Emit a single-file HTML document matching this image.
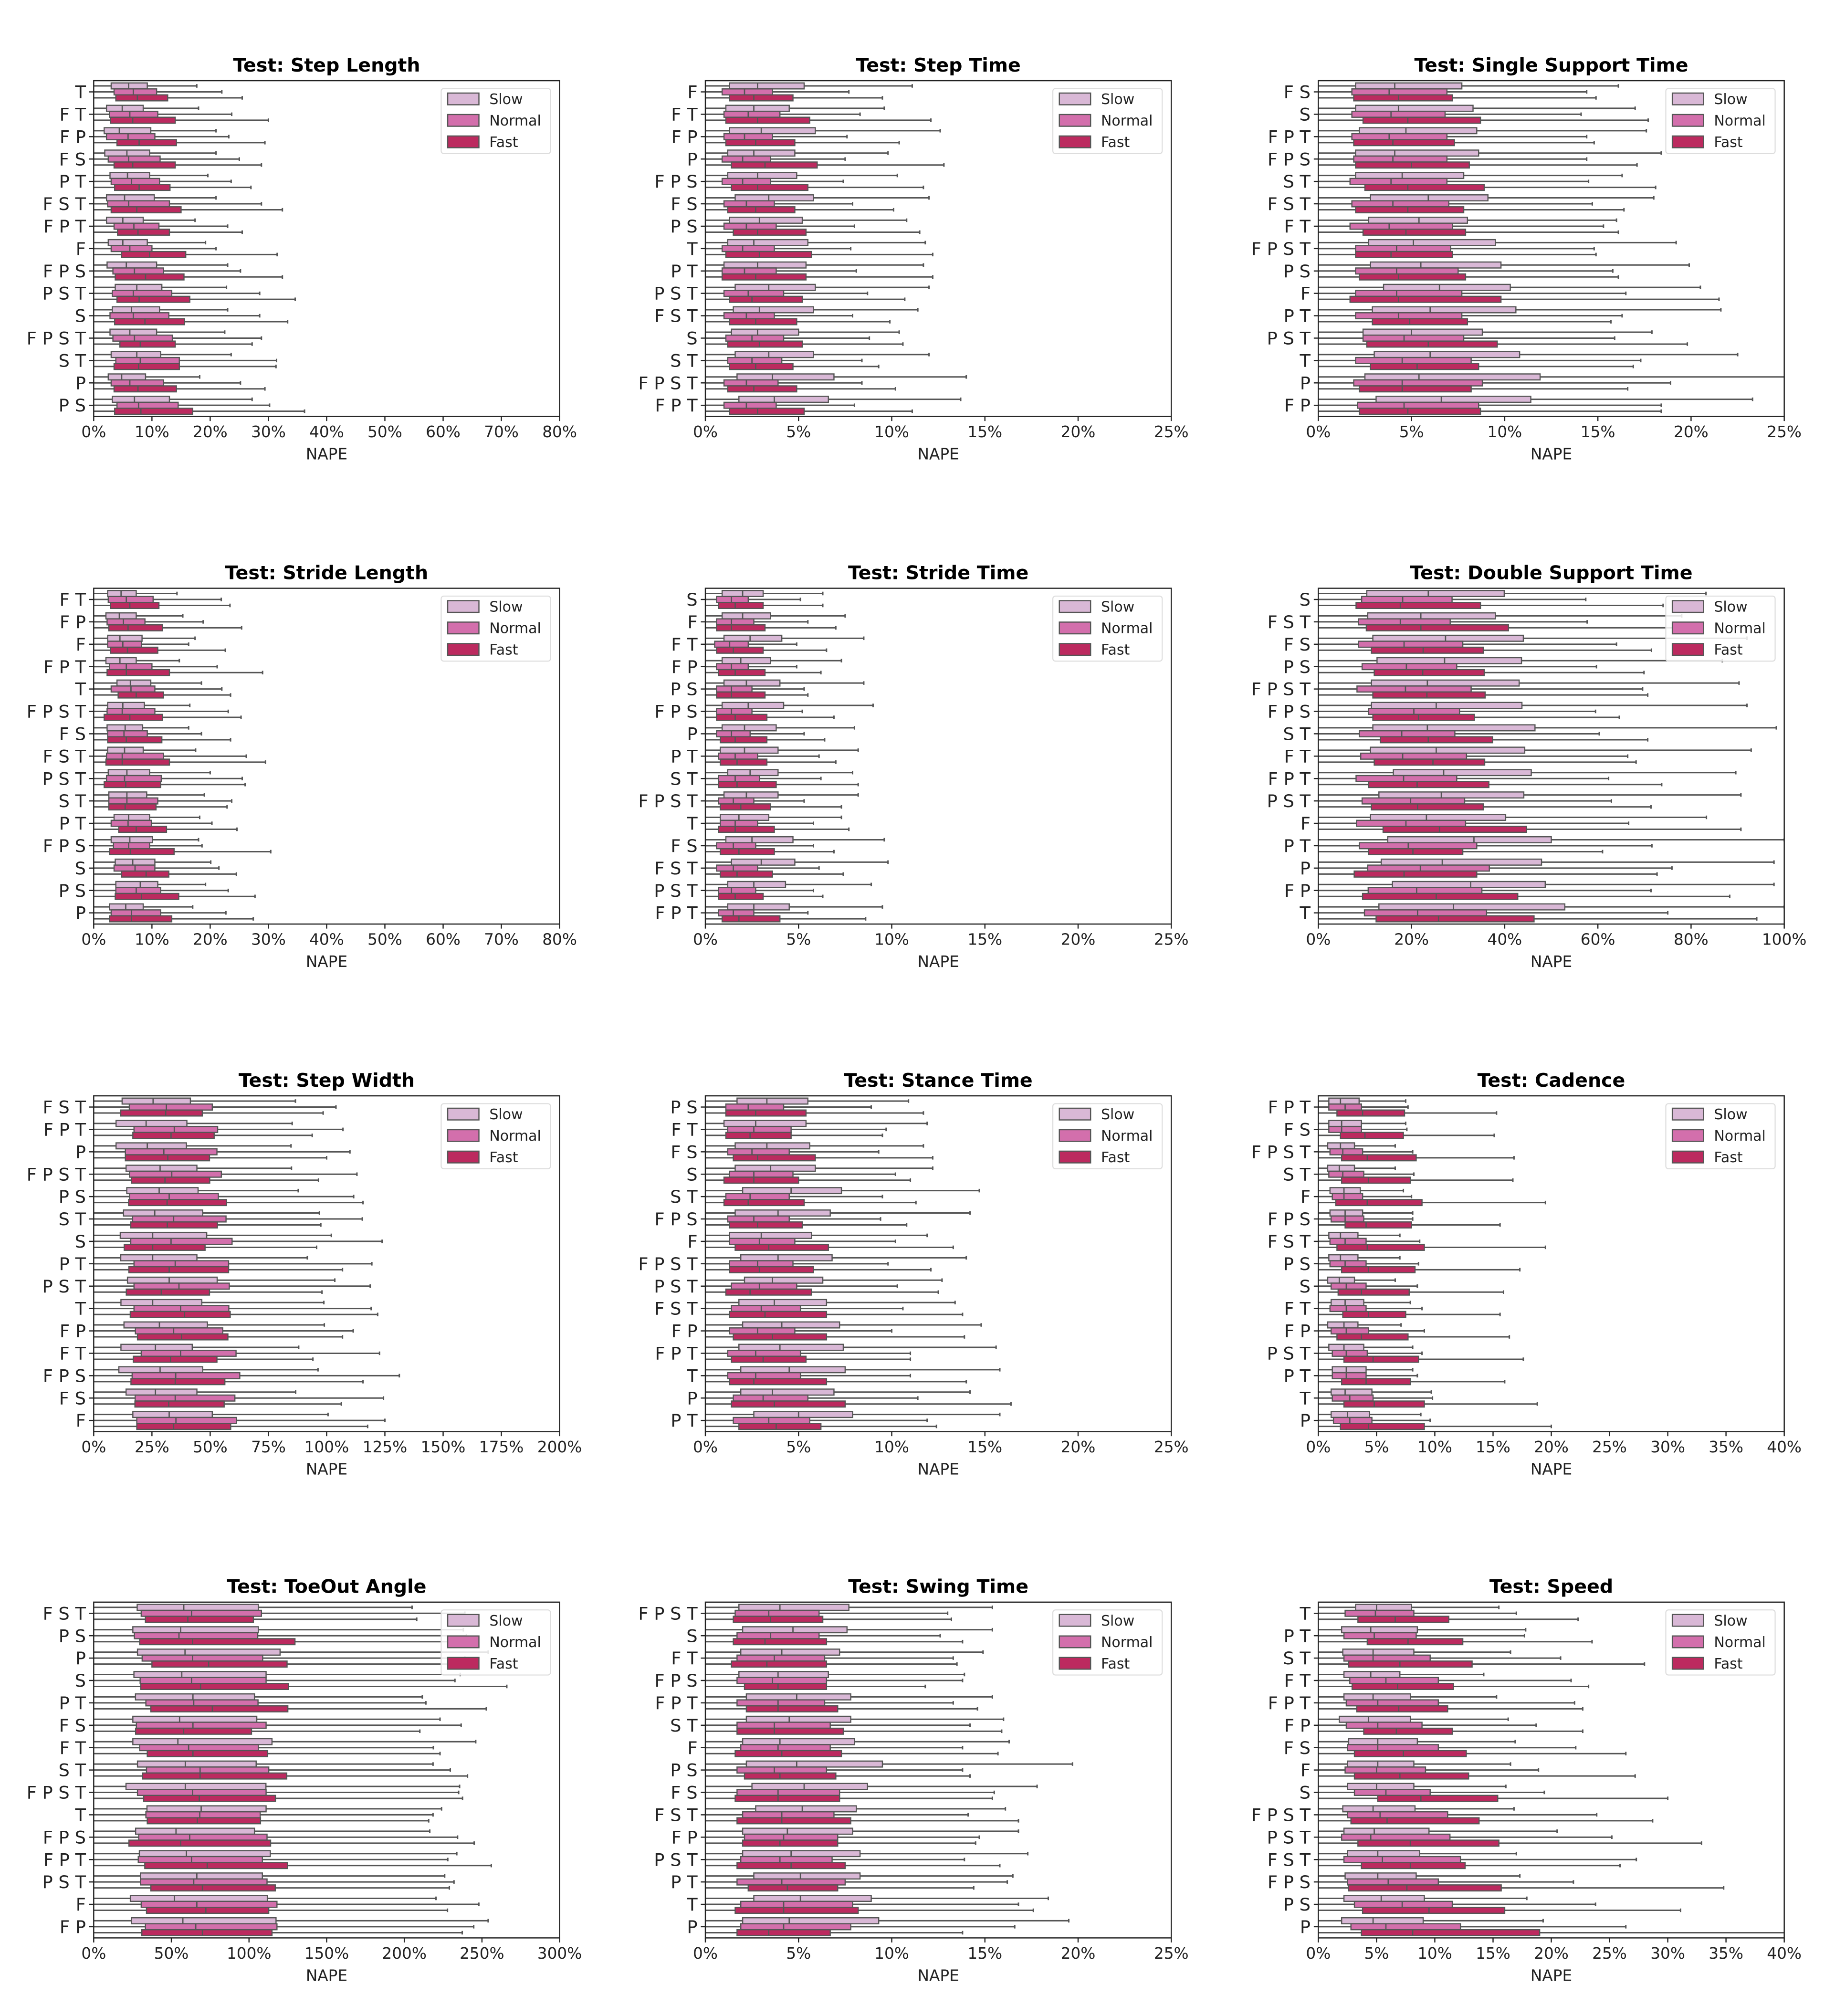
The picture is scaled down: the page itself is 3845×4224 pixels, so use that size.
<!DOCTYPE html>
<html><head><meta charset="utf-8"><title>NAPE boxplots</title>
<style>
html,body{margin:0;padding:0;background:#fff;}
svg{display:block;font-family:"DejaVu Sans","Liberation Sans",sans-serif;}
</style></head>
<body>
<svg id="fig" width="3845" height="4224" viewBox="0 0 1410 1549" preserveAspectRatio="none" xmlns="http://www.w3.org/2000/svg"></svg>
<script>
// ---------- data: each box = [q1, median, q3, upperWhisker] in % ----------
const stepLengthCats = ["T","F T","F P","F S","P T","F S T","F P T","F","F P S","P S T","S","F P S T","S T","P","P S"];
const stepLengthSlow = [[3,6,9.2,17.7],[2.2,4.9,8.5,18],[1.8,4.4,9.8,21],[1.9,5.7,9.6,21],[2.8,5.8,9.6,19.6],[2.2,5.3,10.4,21],[2.2,5,8.5,17.4],[2.5,5,9.2,19.2],[2.3,5.6,10.8,23],[3.7,7.4,11.7,22.8],[3.2,6.5,11.3,23],[2.8,6.2,10.8,22.5],[3,7.4,11.5,23.6],[2.5,4.8,8.9,18.2],[3.2,7,13,27.2]];
const stepLengthNormal = [[3.5,6.8,10.8,22],[2.7,6.2,11,23.7],[2.2,5.9,10.5,23.2],[2.5,6,11.4,25],[3,6.5,11.3,23.6],[2.4,6,13,28.8],[3.5,6.9,11.2,23],[3,6.2,10,21],[3.3,7,12,25.2],[3.2,6.8,13.4,28.5],[2.8,6.8,12.9,28.5],[3.3,7,13.5,28.8],[3.8,8,14.7,31.4],[3,6.2,12,25.2],[4,7.7,14.5,30.2]];
const stepLengthFast = [[3.8,7.5,12.7,25.5],[2.9,6.7,14,30],[4,7.8,14.2,29.4],[3.5,6.7,14,28.8],[3.6,7.8,13.1,27],[3,7.4,15,32.4],[4.1,7.6,13,25.5],[4.8,9.6,15.8,31.5],[3.7,8.9,15.5,32.4],[4,7.8,16.5,34.6],[3.6,8.8,15.6,33.3],[4.5,8,14,27.2],[3.5,7.7,14.7,31.3],[3.5,7.6,14.2,29.4],[3.6,8.1,17,36.2]];

const stepTimeCats = ["F","F T","F P","P","F P S","F S","P S","T","P T","P S T","F S T","S","S T","F P S T","F P T"];
const stepTimeSlow = [[1.3,2.8,5.3,11.1],[1.1,2.6,4.5,9.6],[1.3,3,5.9,12.6],[1.2,2.6,4.8,9.8],[1.2,2.8,4.9,10.3],[1.6,3.4,5.8,12],[1.3,2.9,5.2,10.8],[1.2,2.6,5.5,11.8],[1,2.8,5.4,11.7],[1.6,3.4,5.9,12],[1.5,2.9,5.8,11.4],[1.4,2.8,5,10.4],[1.6,3.4,5.8,12],[1.7,3.6,6.9,14],[1.8,3.7,6.6,13.7]];
const stepTimeNormal = [[0.9,2.1,3.6,7.7],[1,2.3,4,8.3],[1,2.1,3.6,7.6],[0.9,2,3.5,7.5],[0.9,2,3.5,7.4],[1,2.2,3.7,7.9],[1,2.2,3.8,8],[0.9,2,3.7,7.8],[0.9,2.1,3.8,8.1],[1,2.3,4.2,8.7],[1,2.2,3.7,7.9],[1.1,2.5,4.2,8.8],[1.2,2.5,4.1,8.4],[1,2.2,3.9,8.4],[1,2.2,3.8,8]];
const stepTimeFast = [[1.3,2.6,4.7,9.5],[1.1,2.8,5.6,12.1],[1.1,2.7,4.8,10.4],[1.4,3.2,6,12.8],[1.4,2.8,5.5,11.7],[1.2,2.7,4.8,10.1],[1.5,2.8,5.4,11.5],[1.1,2.9,5.7,12.2],[0.9,2.7,5.4,12.2],[1.3,2.5,5.2,10.7],[1.3,2.7,4.9,9.9],[1.2,2.9,5.2,10.6],[1.3,2.7,4.7,9.3],[1.2,2.6,4.9,10.2],[1.3,2.8,5.3,11.1]];

const sstCats = ["F S","S","F P T","F P S","S T","F S T","F T","F P S T","P S","F","P T","P S T","T","P","F P"];
const sstSlow = [[2,4.1,7.7,16.1],[2,4.3,8.3,17],[2.2,4.7,8.5,17.6],[2,4.1,8.6,18.4],[2,4.5,7.8,16.3],[2.8,5.9,9.1,18],[2.7,5.4,8,16],[2.7,5.1,9.5,19.2],[2.8,5.5,9.8,19.9],[3.5,6.5,10.3,20.5],[2.9,6,10.6,21.6],[2.4,5,8.8,17.9],[3,6,10.8,22.5],[2.5,5.4,11.9,26],[3.1,6.6,11.4,23.3]];
const sstNormal = [[1.8,3.8,6.9,14.4],[1.8,3.9,6.8,14.1],[1.8,3.8,6.9,14.4],[1.9,4,6.9,14.4],[1.7,3.9,6.9,14.5],[1.8,4,7,14.7],[1.7,3.8,7.2,15.3],[2,4.2,7.1,14.8],[2,4.2,7.5,15.8],[2,4.2,7.7,16.5],[2,4.3,7.7,16.3],[2.4,4.6,7.8,15.9],[2,4.5,8.2,17.3],[1.9,4.5,8.8,18.9],[2.1,4.6,8.6,18.4]];
const sstFast = [[1.9,4.3,7.2,14.9],[2.4,4.8,8.7,17.7],[1.9,4,7.3,14.8],[2,5,8.1,17.1],[2.5,4.8,8.9,18.1],[2,4.8,7.8,16.4],[2.4,4.7,7.9,16.1],[2,3.9,7.2,14.9],[2.2,4.3,7.9,16.1],[1.7,4.3,9.8,21.5],[2.9,4.9,8,15.7],[2.6,5.9,9.6,19.8],[2.8,5.3,8.6,16.9],[2.2,4.5,8.2,16.6],[2.2,4.8,8.7,18.4]];

const strideLengthCats = ["F T","F P","F","F P T","T","F P S T","F S","F S T","P S T","S T","P T","F P S","S","P S","P"];
const strideLengthSlow = [[2.4,4.7,7.3,14.3],[2.1,4.4,7.3,15.3],[2.4,4.5,8.3,17.4],[2.1,4.5,7.3,14.7],[4,6.3,9.8,18.5],[2.4,5,8.7,16.5],[2.3,5.4,8.4,16.3],[2.4,5.3,8.5,17.5],[2.5,5.7,9.6,20],[2.6,5.7,9.1,19],[3.5,6,9.6,18.2],[3,6.2,10.1,18],[3.7,6.7,10.5,20.1],[3.8,8,11,19.2],[2.7,5.5,8.5,17]];
const strideLengthNormal = [[2.5,5.6,10.2,21.9],[2.3,5.1,8.8,18.8],[2.4,5,8.2,16.3],[2.7,5.6,10,21.2],[3,6.4,10.5,22],[2.3,4.9,10.5,23.1],[2.4,5.2,9.2,18.5],[2.2,4.9,12,26.2],[2.2,5.3,11.6,25.5],[2.6,5.7,11,23.7],[3,5.9,9.9,20.3],[3.4,6,9.6,18.6],[3.5,7.1,10.5,21.5],[3.8,7.3,11.5,23.1],[3,6.5,11.5,22.7]];
const strideLengthFast = [[2.9,6.2,11.2,23.4],[2.6,5.9,11.8,25.4],[2.9,5.8,11,22.6],[2.3,5.6,13,29],[4.2,7.3,12,23.5],[1.8,6.2,11.8,25.3],[2.4,5.6,11.7,23.5],[2.1,4.9,13,29.5],[1.8,5.5,11.5,26],[2.6,5.4,10.7,22.9],[4.3,7.3,12.5,24.6],[2.7,6.3,13.8,30.4],[4.8,9,12.9,24.5],[3.7,8.2,14.6,27.7],[2.7,6.5,13.4,27.4]];

const strideTimeCats = ["S","F","F T","F P","P S","F P S","P","P T","S T","F P S T","T","F S","F S T","P S T","F P T"];
const strideTimeSlow = [[0.9,2,3.1,6.3],[0.9,2,3.5,7.5],[1,2.4,4.1,8.5],[0.9,1.9,3.5,7.3],[1,2.2,4,8.5],[0.9,2.3,4.2,9],[0.9,2.1,3.8,8],[0.8,2.1,3.9,8.2],[1.2,2.4,3.9,7.9],[1,2.2,3.9,8.2],[0.8,1.8,3.4,7.3],[1.1,2.5,4.7,9.6],[1.4,3,4.8,9.8],[1.2,2.6,4.3,8.9],[1.2,2.6,4.5,9.5]];
const strideTimeNormal = [[0.6,1.4,2.3,5.1],[0.6,1.4,2.6,5.5],[0.5,1.3,2.3,4.9],[0.6,1.4,2.3,4.9],[0.6,1.4,2.5,5.3],[0.6,1.4,2.5,5.2],[0.6,1.4,2.4,5.3],[0.7,1.6,2.8,6.1],[0.7,1.6,2.9,6.2],[0.7,1.5,2.6,5.3],[0.8,1.6,2.8,5.8],[0.6,1.5,2.7,5.8],[0.6,1.5,2.8,6.1],[0.7,1.4,2.7,5.8],[0.7,1.5,2.6,5.5]];
const strideTimeFast = [[0.7,1.6,3.1,6.3],[0.6,1.4,3.2,7],[0.6,1.5,3.1,6.5],[0.7,1.6,3.2,6.2],[0.6,1.4,3.2,5.5],[0.6,1.6,3.3,6.9],[0.8,1.6,3.3,6.4],[0.8,1.7,3.3,7],[0.7,1.7,3.8,8.2],[0.8,1.9,3.5,7.3],[0.7,1.6,3.7,7.7],[0.8,1.8,3.7,6.9],[0.8,1.7,3.6,7.4],[0.7,1.6,3.1,6.3],[0.9,1.8,4,8.6]];

const dstCats = ["S","F S T","F S","P S","F P S T","F P S","S T","F T","F P T","P S T","F","P T","P","F P","T"];
const dstSlow = [[10.4,23.6,39.9,83.2],[10.6,22,38,78],[11.7,27.3,44,92],[12.6,27.1,43.6,86.7],[11.4,23.4,43.1,90.3],[11.4,25.3,43.7,92],[11.7,23.4,46.5,98.3],[11.2,25.3,44.3,92.9],[16.1,26.9,45.7,89.6],[13,26.4,44.1,90.7],[11.2,23.2,40.2,83.3],[14.9,33.4,50,100],[13.5,26.6,47.9,97.8],[15.9,32.7,48.7,97.8],[13,29,52.9,100]];
const dstNormal = [[9.3,18.1,28.7,57.4],[8.6,17.6,28.3,57.7],[8.6,18.4,31,64],[9.4,18.9,29.7,59.7],[8.3,18.7,32.8,69.6],[10.8,20.5,30.3,59.5],[8.8,17.9,29.3,60.3],[9.1,18.1,31.8,66.4],[8.1,18.3,29.7,62.3],[9.4,19.8,31.4,62.9],[8.2,18.8,31.6,66.6],[8.8,19.3,34,71.6],[10.6,21.9,36.7,75.9],[10.7,21.1,35.1,71.4],[9.9,21.3,36.1,75]];
const dstFast = [[8.1,17.6,34.8,74],[10.3,22,40.8,80],[11.4,22.5,35.4,71.5],[12,22.4,35.6,69.9],[11.7,23.3,35.8,70.7],[11.7,21.5,33.5,64.6],[13.3,23.6,37.4,70.7],[12,24.6,35.7,68.2],[10.8,21.2,36.6,73.7],[11.4,21.3,35.4,71.4],[13.9,26,44.7,90.7],[10.8,20.3,31,61],[7.7,18.4,34,72.7],[9.5,25.3,42.8,88.3],[12.4,25.8,46.3,94.1]];

const stepWidthCats = ["F S T","F P T","P","F P S T","P S","S T","S","P T","P S T","T","F P","F T","F P S","F S","F"];
const stepWidthSlow = [[12.2,25.5,41.5,86.6],[9.6,22.5,40,85.2],[9.6,23,39.8,84.7],[13.9,28.5,44.3,84.9],[14.2,28.1,44.8,87.8],[12.8,26.2,46.8,96.9],[11.4,25.3,48.5,102],[11.6,25.3,44.3,91.7],[14.5,32.4,53,103.5],[11.7,25.3,46.4,98.8],[13,28.2,48.8,99],[11.7,26.5,42.3,88],[10.8,28.5,46.8,96.3],[13.9,26.5,44.3,86.7],[16.8,32.4,50.9,100.6]];
const stepWidthNormal = [[15.3,31.2,50.9,104],[17.3,34.6,53.2,107],[13.6,30.1,52.9,110],[15.4,33.5,54.8,113],[15.4,32.4,53.5,111.6],[16.7,34.3,56.8,115.3],[15.9,33.2,59.4,123.8],[17.3,35,57.9,119.4],[17.3,36.6,58.2,118.7],[17.3,37.3,58,119.1],[17.9,34.3,55.4,111.4],[20.4,37.3,61.1,122.7],[16.5,35.2,62.7,131.2],[17.8,35,60.6,124.4],[18.5,35.3,61.3,125]];
const stepWidthFast = [[11.6,30.9,46.6,98.5],[16.8,33.2,51.7,93.8],[13.6,31.8,49.7,100],[16.2,30.6,49.8,96.5],[15,31.5,57,115.6],[15.9,31.6,53.1,97.5],[13.1,25.3,47.8,95.7],[15.1,32.4,57.9,106.8],[14,29,49.7,98],[15.7,39,58.6,121.9],[18.8,37.7,57.6,106.8],[17,33,52.9,94.1],[16,35,56.3,115.6],[17.7,32.2,56,106.3],[18.5,34.3,58.8,117.6]];

const stanceCats = ["P S","F T","F S","S","S T","F P S","F","F P S T","P S T","F S T","F P","F P T","T","P","P T"];
const stanceSlow = [[1.7,3.3,5.5,10.9],[1,2.7,5.4,11.9],[1.6,3.3,5.6,11.7],[1.6,3.5,5.9,12.2],[2,4.6,7.3,14.7],[1.6,3.9,6.7,14.2],[1.3,3,5.7,11.9],[1.9,3.9,6.8,14],[2.1,3.6,6.3,12.7],[1.8,3.7,6.5,13.4],[2,4.1,7.2,14.8],[1.8,4,7.4,15.6],[1.9,4.5,7.5,15.8],[1.9,3.6,6.9,14.2],[2.6,5,7.9,15.8]];
const stanceNormal = [[1.1,2.3,4.2,8.9],[1.2,2.6,4.6,9.7],[1.2,2.5,4.5,9.3],[1.3,2.6,4.7,10.2],[1.1,2.4,4.5,9.5],[1.2,2.6,4.5,9.4],[1.3,2.9,4.8,10.2],[1.3,2.8,4.7,9.8],[1.4,2.9,4.9,10.3],[1.4,3,5.1,10.6],[1.3,2.8,4.8,10],[1.2,2.7,5.1,11],[1.2,2.7,5.1,11],[1.5,3.1,5.5,11.4],[1.5,3.4,5.6,11.9]];
const stanceFast = [[1.1,2.7,5.4,11.7],[1.1,2.4,4.6,9.5],[1.5,2.8,5.9,12.2],[1,2.6,5,11],[1,2.3,5.3,11.3],[1.3,2.8,5.2,10.8],[1.6,3.4,6.6,13.3],[1.3,2.9,5.8,12.1],[1.1,2.4,5.7,12.5],[1.3,3.2,6.5,13.8],[1.5,3.6,6.5,13.9],[1.4,3.1,5.4,11],[1.3,2.6,6.5,14],[1.4,3.7,7.5,16.4],[1.8,3.8,6.2,12.4]];

const cadenceCats = ["F P T","F S","F P S T","S T","F","F P S","F S T","P S","S","F T","F P","P S T","P T","T","P"];
const cadenceSlow = [[0.9,1.9,3.5,7.5],[0.9,2,3.7,7.5],[0.8,1.9,3.1,6.6],[0.8,1.8,3.1,6.6],[1,2.2,3.6,7.3],[1,2.3,3.8,8.1],[0.9,1.9,3.4,7],[0.9,1.9,3.4,7],[0.8,1.8,3.1,6.6],[1.1,2.3,3.9,7.9],[0.8,2.2,3.4,7.1],[0.9,2.2,3.9,8.1],[1.2,2.4,4.1,8.1],[1.1,2.3,4.6,9.7],[1.1,2.5,4.4,8.8]];
const cadenceNormal = [[0.9,2.3,3.7,7.7],[0.9,2,3.7,7.6],[1,2.1,3.8,8.1],[0.9,2.1,3.9,8.2],[1.2,2.2,3.8,8],[1.1,2.3,3.9,8.1],[1,2.3,4.1,8.7],[1,2.3,4.1,8.6],[1.1,2.4,4.1,8.5],[1,2.4,4.1,8.9],[1.1,2.4,4.3,9.1],[1.2,2.4,4.2,8.9],[1.2,2.4,4.1,8.5],[1.2,2.7,4.7,9.8],[1.3,2.7,4.6,9.6]];
const cadenceFast = [[1.6,3.8,7.4,15.3],[1.9,4,7.3,15.1],[2,4.2,8.4,16.8],[2,4.3,7.9,16.7],[1.5,4.2,8.9,19.5],[2.3,4.1,8,15.6],[1.6,4.2,9.1,19.5],[2,4.3,8.3,17.3],[1.7,3.7,7.8,15.9],[2.1,4.3,7.5,15.6],[1.6,3.7,7.7,16.4],[2.2,4.7,8.6,17.6],[2,4.1,7.9,16],[2.2,4.8,9.1,18.8],[1.9,4.3,9.1,20]];

const toeOutCats = ["F S T","P S","P","S","P T","F S","F T","S T","F P S T","T","F P S","F P T","P S T","F","F P"];
const toeOutSlow = [[28,58,106,205],[25.2,56,106,238],[28.2,58.8,120,254],[25.9,56.7,111,236],[26.9,63.9,103.5,211.6],[25.2,55.3,105,223],[25.2,54.2,114.8,246],[28.2,59,104.6,218.5],[20.8,59,110.9,235.6],[34.3,69.2,111,224],[27,53,103.5,216.4],[29.4,59.7,113.7,233.8],[30.1,66.4,108.6,226],[23.6,52,111.8,220.4],[24.3,57.4,117.4,254]];
const toeOutNormal = [[30.6,63,108,239],[26.2,54.9,105.6,240],[31.2,63.7,108.8,239],[29.9,63,111,232.6],[33.6,64.4,105.8,213.9],[27.5,63.9,111,236.6],[29.6,61.1,106,218.7],[34,68.5,112.7,229.6],[28.2,63.7,111,235],[33.6,68.3,107.2,218.5],[29,61.8,111.6,234.3],[28.7,63,108.6,228],[30.1,64.4,111.6,232],[30.6,66.4,118,248],[33.3,65.7,118,244.7]];
const toeOutFast = [[33.3,60.6,102.8,208],[29.6,63.7,129.6,240],[37.5,74,124.5,241],[30.3,68.8,125.5,266],[36.8,76.4,125,252.8],[27,57.9,101.6,210],[34.5,63.9,112,223],[31.5,68.5,124.3,240.7],[32.2,68,117,237.5],[34.5,66.7,107.4,215.7],[22.7,56,113.9,245],[32.9,73.1,124.8,256],[36.8,70,116.9,229],[34,72.2,112.7,227.8],[31,70,114.8,237.3]];

const swingCats = ["F P S T","S","F T","F P S","F P T","S T","F","P S","F S","F S T","F P","P S T","P T","T","P"];
const swingSlow = [[1.8,4,7.7,15.4],[2,4.7,7.6,15.4],[1.9,4.1,7.2,14.9],[1.8,3.9,6.6,13.9],[2.2,4.9,7.8,15.4],[2.2,4.5,7.8,16],[2,4,8,16.3],[2.2,4.9,9.5,19.7],[2.5,5.3,8.7,17.8],[2.7,5.2,8.1,16.1],[2,4.4,7.9,16.8],[2,4.6,8.3,17.3],[2.6,5.1,8.3,16.5],[2.6,5.1,8.9,18.4],[2,4.5,9.3,19.5]];
const swingNormal = [[1.6,3.4,6.1,13],[1.7,3.5,6.1,12.6],[1.7,3.7,6.4,13.3],[1.7,3.6,6.5,13.8],[1.7,3.9,6.4,13.3],[1.7,3.7,6.7,14.2],[1.9,3.9,6.7,13.8],[1.7,3.7,6.5,13.8],[1.7,3.9,7.2,15.5],[2,4.1,6.9,14.1],[2.1,4.2,7.1,14.7],[1.9,4,6.8,13.9],[1.7,4.1,7.5,16.2],[1.9,4.2,7.9,16.8],[1.9,4.2,7.8,16.6]];
const swingFast = [[1.5,3.5,6.3,13.2],[1.5,3.2,6.5,13.8],[1.4,3.3,6.5,13.5],[2.1,3.9,6.5,11.8],[2.2,3.9,7.1,14.6],[1.7,3.7,7.4,15.9],[1.6,4.1,7.3,15.7],[2.1,4,7,14.2],[1.6,3.9,7.2,15.4],[1.7,4.1,7.8,16.8],[2,4,7.1,14.5],[1.7,4.6,7.5,15.8],[2.3,4.4,7.1,14.4],[1.6,4.2,8.2,17.6],[1.7,3.4,6.7,13.8]];

const speedCats = ["T","P T","S T","F T","F P T","F P","F S","F","S","F P S T","P S T","F S T","F P S","P S","P"];
const speedSlow = [[3.2,5,8,15.5],[2,4.5,8.5,17.8],[2.1,4.7,8.2,16.5],[2.2,4.5,7,14.2],[2.2,4.7,7.9,15.3],[1.8,4.3,7.9,16.3],[2.6,5.1,8.5,16.9],[2.5,5.1,8.2,16.5],[2.5,5,8.2,16.1],[2.1,4.7,8.3,16.8],[2.2,4.8,9.5,20.5],[2.5,5.1,8.7,17],[2.3,5.1,8.4,17.3],[2.2,5.4,9.1,17.9],[2,4.7,9,19.3]];
const speedNormal = [[2.3,4.9,8.2,17],[2.2,4.8,8.4,17.7],[2.2,4.7,9.6,20.8],[2.7,5.8,10.3,21.7],[2.4,5.1,10.3,22],[2.4,5.1,8.9,18.7],[2.5,5.1,10.3,22.1],[2.3,5,9.2,18.9],[3.1,5.8,9.6,19.4],[2.5,5.3,11.1,23.9],[2,4.5,11.3,25.2],[2.2,5.5,12.2,27.3],[2.5,6,10.3,21.9],[3.1,7.2,11.5,23.8],[2.8,5.8,12.2,26.4]];
const speedFast = [[3.4,6.6,11.2,22.3],[4.2,7.7,12.4,23.5],[2.6,7,13.2,28],[2.9,6.8,11.6,23.2],[3.3,6.9,11.1,22.7],[3.9,6.7,11.5,22.7],[3.1,7.3,12.7,26.4],[3.1,7,12.9,27.2],[5.1,8.8,15.4,30],[2.8,5.9,13.8,28.7],[3.4,7.9,15.5,32.9],[3.7,7.9,12.6,25.9],[2.6,7.6,15.7,34.8],[3.8,9.5,16,31.1],[3.7,8.1,19,42]];

// tick values per panel
const ticks80 = [0,10,20,30,40,50,60,70,80];
const ticks25 = [0,5,10,15,20,25];
const ticks100 = [0,20,40,60,80,100];
const ticks200 = [0,25,50,75,100,125,150,175,200];
const ticks40 = [0,5,10,15,20,25,30,35,40];
const ticks300 = [0,50,100,150,200,250,300];

const panelTitles = ["Test: Step Length","Test: Step Time","Test: Single Support Time","Test: Stride Length","Test: Stride Time","Test: Double Support Time","Test: Step Width","Test: Stance Time","Test: Cadence","Test: ToeOut Angle","Test: Swing Time","Test: Speed"];
const panelCats = [stepLengthCats,stepTimeCats,sstCats,strideLengthCats,strideTimeCats,dstCats,stepWidthCats,stanceCats,cadenceCats,toeOutCats,swingCats,speedCats];
const panelSlow = [stepLengthSlow,stepTimeSlow,sstSlow,strideLengthSlow,strideTimeSlow,dstSlow,stepWidthSlow,stanceSlow,cadenceSlow,toeOutSlow,swingSlow,speedSlow];
const panelNormal = [stepLengthNormal,stepTimeNormal,sstNormal,strideLengthNormal,strideTimeNormal,dstNormal,stepWidthNormal,stanceNormal,cadenceNormal,toeOutNormal,swingNormal,speedNormal];
const panelFast = [stepLengthFast,stepTimeFast,sstFast,strideLengthFast,strideTimeFast,dstFast,stepWidthFast,stanceFast,cadenceFast,toeOutFast,swingFast,speedFast];
const panelTicks = [ticks80,ticks25,ticks25,ticks80,ticks25,ticks100,ticks200,ticks25,ticks40,ticks300,ticks25,ticks40];
const seriesNames = ["Slow","Normal","Fast"];

// ---------- layout (styling, not data) ----------
const NS = "http://www.w3.org/2000/svg";
const svg = document.getElementById("fig");
const colX = [72, 542, 1013];
const rowY = [62, 452, 842, 1231];
const AW = 358, AH = 258;
const fills = ["#d9b8d6", "#d36fac", "#bc2a5f"];
const edge = "#555555";

function mk(tag, attrs, parent) {
  const e = document.createElementNS(NS, tag);
  for (const k in attrs) e.setAttribute(k, attrs[k]);
  (parent || svg).appendChild(e);
  return e;
}
function slug(s) { return s.toLowerCase().replace(/test: /, "").replace(/[^a-z0-9]+/g, "-").replace(/^-|-$/g, ""); }

const defs = mk("defs", {});

for (let p = 0; p < 12; p++) {
  const x0 = colX[p % 3], y0 = rowY[Math.floor(p / 3)];
  const tks = panelTicks[p];
  const xmax = tks[tks.length - 1];
  const xs = v => x0 + (v / xmax) * AW;
  const cats = panelCats[p];
  const band = AH / cats.length;
  const ys = i => y0 + band * (i + 0.5);
  const name = slug(panelTitles[p]);

  const g = mk("g", {});
  
  

  const cp = mk("clipPath", { id: "clip" + p }, defs);
  mk("rect", { x: x0, y: y0, width: AW, height: AH }, cp);

  const title = mk("text", { x: x0 + AW / 2, y: y0 - 7, "text-anchor": "middle", "font-size": "14.5", "font-weight": "bold", fill: "#000" }, g);
  title.textContent = panelTitles[p];
  
  

  const plot = mk("g", { "clip-path": "url(#clip" + p + ")" }, g);
  
  

  const series = [panelSlow[p], panelNormal[p], panelFast[p]];
  const bh = band * 0.8 / 3;
  for (let i = 0; i < cats.length; i++) {
    for (let s = 0; s < 3; s++) {
      const d = series[s][i];
      const cy = ys(i) + (s - 1) * bh;
      const bg = mk("g", {}, plot);
      
      
      mk("line", { x1: xs(0), x2: xs(d[0]), y1: cy, y2: cy, stroke: edge, "stroke-width": 1.1 }, bg);
      mk("line", { x1: xs(d[2]), x2: xs(d[3]), y1: cy, y2: cy, stroke: edge, "stroke-width": 1.1 }, bg);
      mk("line", { x1: xs(d[3]), x2: xs(d[3]), y1: cy - bh * 0.3, y2: cy + bh * 0.3, stroke: edge, "stroke-width": 1.1 }, bg);
      mk("rect", { x: xs(d[0]), y: cy - bh / 2, width: Math.max(0.5, xs(d[2]) - xs(d[0])), height: bh, fill: fills[s], stroke: edge, "stroke-width": 0.9 }, bg);
      mk("line", { x1: xs(d[1]), x2: xs(d[1]), y1: cy - bh / 2, y2: cy + bh / 2, stroke: edge, "stroke-width": 1 }, bg);
    }
  }

  // axes frame
  const frame = mk("rect", { x: x0, y: y0, width: AW, height: AH, fill: "none", stroke: "#222", "stroke-width": 0.9 }, g);
  
  

  // y ticks and category labels
  for (let i = 0; i < cats.length; i++) {
    mk("line", { x1: x0 - 3.5, x2: x0, y1: ys(i), y2: ys(i), stroke: "#222", "stroke-width": 0.9 }, g);
    const t = mk("text", { x: x0 - 6, y: ys(i) + 4.8, "text-anchor": "end", "font-size": "13.5", fill: "#222" }, g);
    t.textContent = cats[i];
    
    
  }
  // x ticks
  for (let k = 0; k < tks.length; k++) {
    const tx = xs(tks[k]);
    mk("line", { x1: tx, x2: tx, y1: y0 + AH, y2: y0 + AH + 3.5, stroke: "#222", "stroke-width": 0.9 }, g);
    const t = mk("text", { x: tx, y: y0 + AH + 16, "text-anchor": "middle", "font-size": "12", fill: "#222" }, g);
    t.textContent = tks[k] + "%";
    
    
  }
  const xt = mk("text", { x: x0 + AW / 2, y: y0 + AH + 33, "text-anchor": "middle", "font-size": "12", fill: "#222" }, g);
  xt.textContent = "NAPE";
  
  

  // legend
  const lg = mk("g", {}, g);
  
  
  const lx = x0 + AW - 91, ly = y0 + 6;
  mk("rect", { x: lx, y: ly, width: 84, height: 50, rx: 2, fill: "#fff", "fill-opacity": 0.85, stroke: "#dddddd", "stroke-width": 0.8 }, lg);
  for (let s = 0; s < 3; s++) {
    const ey = ly + 8 + s * 16.5;
    const entry = mk("g", {}, lg);
    
    
    mk("rect", { x: lx + 5, y: ey - 4.5, width: 24, height: 9, fill: fills[s], stroke: edge, "stroke-width": 0.9 }, entry);
    const lt = mk("text", { x: lx + 37, y: ey + 4, "font-size": "11", fill: "#222" }, entry);
    lt.textContent = seriesNames[s];
  }
}
</script>
</body></html>
